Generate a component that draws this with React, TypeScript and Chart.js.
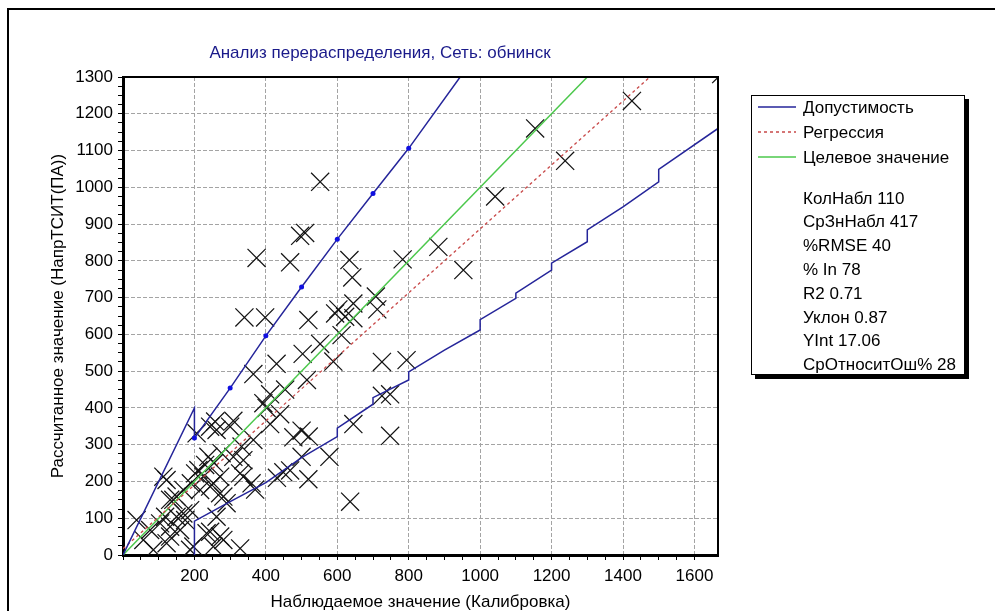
import React, { useEffect, useRef } from "react";
import { Chart, registerables } from "chart.js";

Chart.register(...registerables);

// ---------- data ----------
const chartTitle = "Анализ перераспределения, Сеть: обнинск";
const xAxisTitle = "Наблюдаемое значение (Калибровка)";
const yAxisTitle = "Рассчитанное значение (НапрТСИТ(ПА))";

const legendLabels = ["Допустимость", "Регрессия", "Целевое значение"];
const statsLines = [
  "КолНабл 110",
  "СрЗнНабл 417",
  "%RMSE 40",
  "% In 78",
  "R2 0.71",
  "Уклон 0.87",
  "YInt 17.06",
  "СрОтноситОш% 28",
];

// observed (calibration) values
const observed = [
  552, 1154, 1425, 1238, 1042, 883, 953, 783, 496, 510,
  374, 468, 634, 642, 708, 712, 340, 398, 519, 594,
  603, 622, 645, 645, 612, 552, 503, 589, 725, 794,
  430, 515, 365, 454, 412, 393, 402, 440, 412, 500,
  477, 520, 500, 578, 645, 725, 748, 748, 636, 519,
  431, 449, 468, 360, 370, 337, 337, 309, 300, 309,
  258, 244, 262, 206, 365, 332, 276, 239, 272, 253,
  225, 211, 202, 216, 281, 262, 281, 328, 244, 197,
  122, 57, 38, 113, 132, 150, 169, 118, 104, 132,
  150, 169, 188, 174, 160, 76, 328, 244, 272, 290,
  122, 141, 132, 234, 272, 253, 188, 85, 1675, 230,
  255, 190,
];
// calculated (model) values
const calculated = [
  1015, 1160, 1235, 1072, 975, 838, 775, 804, 868, 876,
  808, 796, 802, 755, 703, 668, 646, 646, 639, 657,
  668, 648, 684, 644, 598, 574, 547, 526, 525, 530,
  520, 476, 492, 450, 437, 413, 400, 383, 356, 338,
  320, 322, 267, 267, 356, 433, 437, 324, 145, 206,
  210, 225, 230, 195, 178, 213, 258, 267, 349, 365,
  363, 349, 340, 331, 313, 295, 277, 267, 213, 195,
  213, 231, 222, 177, 159, 104, 41, 18, 63, 23,
  32, 41, 95, 213, 150, 159, 177, 104, 86, 77,
  104, 113, 122, 95, 68, 68, 222, 186, 168, 141,
  204, 150, 50, 59, 50, 23, 14, 14, 1308, 245,
  250, 195,
];

// tolerance band (upper)
const upperTolX = [0, 200, 200, 300, 400, 500, 600, 700, 800, 944];
const upperTolY = [0, 400, 318, 454, 596, 729, 859, 983, 1106, 1300];
const upperDots = [0, 0, 2.5, 2.5, 2.5, 2.5, 2.5, 2.5, 2.5, 0];

// tolerance band (lower)
const lowerTolX = [200, 200, 300, 400, 500, 600, 600, 700, 700, 800, 800, 900, 1000, 1000, 1100, 1100, 1200, 1200, 1300, 1300, 1400, 1500, 1500, 1666];
const lowerTolY = [0, 92, 145, 197, 265, 322, 345, 410, 428, 476, 498, 557, 612, 640, 698, 712, 775, 794, 852, 884, 947, 1015, 1049, 1160];

// regression & target lines
const regressionX = [0, 1475];
const regressionY = [17.06, 1300];
const targetX = [0, 1300];
const targetY = [0, 1300];

// axes
const xMin = 0;
const xMax = 1666;
const yMin = 0;
const yMax = 1300;
const xMajorStep = 200;
const xMinorStep = 50;
const yMajorStep = 100;
const yMinorStep = 25;

// ---------- styles ----------
const FONT = '"Liberation Sans", Arial, sans-serif';
const FS = 17;
const BLUE = "#25259a";
const BLUE_DOT = "#1010e0";
const RED = "#c84848";
const GREEN = "#4cc84c";
const GRID = "#a4a4a4";

const toPts = (xs: number[], ys: number[]) => xs.map((x, i) => ({ x, y: ys[i] }));

const decorPlugin = {
  id: "decor",
  beforeDraw(chart: any) {
    const { ctx, width, height } = chart;
    ctx.save();
    ctx.fillStyle = "#ffffff";
    ctx.fillRect(0, 0, width, height);
    // outer frame
    ctx.strokeStyle = "#000";
    ctx.lineWidth = 2;
    ctx.beginPath();
    ctx.moveTo(8, height);
    ctx.lineTo(8, 9);
    ctx.lineTo(width, 9);
    ctx.stroke();
    // title
    ctx.fillStyle = "#1a1a8a";
    ctx.font = `${FS}px ${FONT}`;
    ctx.textAlign = "center";
    ctx.textBaseline = "middle";
    ctx.fillText(chartTitle, 380, 53);
    ctx.restore();
  },
  afterDraw(chart: any) {
    const { ctx, chartArea } = chart;
    ctx.save();
    // plot frame top/right
    ctx.strokeStyle = "#000";
    ctx.lineWidth = 2;
    ctx.beginPath();
    ctx.moveTo(chartArea.left, chartArea.top);
    ctx.lineTo(chartArea.right, chartArea.top);
    ctx.lineTo(chartArea.right, chartArea.bottom);
    ctx.stroke();

    // legend box
    const bx = 751, by = 95, bw = 214, bh = 280;
    ctx.fillStyle = "#000";
    ctx.fillRect(bx + 4, by + 4, bw, bh);
    ctx.fillStyle = "#fff";
    ctx.fillRect(bx, by, bw, bh);
    ctx.strokeStyle = "#000";
    ctx.lineWidth = 1;
    ctx.strokeRect(bx + 0.5, by + 0.5, bw - 1, bh - 1);

    const colors = [BLUE, RED, GREEN];
    const dashes = [[], [3, 3], []];
    const rows = [107, 132, 157];
    ctx.font = `${FS}px ${FONT}`;
    ctx.textAlign = "left";
    ctx.textBaseline = "middle";
    legendLabels.forEach((lab, i) => {
      ctx.strokeStyle = colors[i];
      ctx.lineWidth = 1.5;
      ctx.setLineDash(dashes[i]);
      ctx.beginPath();
      ctx.moveTo(758, rows[i]);
      ctx.lineTo(796, rows[i]);
      ctx.stroke();
      ctx.setLineDash([]);
      ctx.fillStyle = "#000";
      ctx.fillText(lab, 803, rows[i] + 1);
    });
    statsLines.forEach((s, i) => {
      ctx.fillStyle = "#000";
      ctx.fillText(s, 803, 199 + i * 23.8);
    });
    ctx.restore();
  },
};

export default function App() {
  const ref = useRef<HTMLCanvasElement | null>(null);

  useEffect(() => {
    if (!ref.current) return;
    const chart = new Chart(ref.current, {
      type: "scatter",
      data: {
        datasets: [
          {
            label: "upper",
            type: "line",
            data: toPts(upperTolX, upperTolY),
            borderColor: BLUE,
            borderWidth: 1.5,
            pointRadius: upperDots,
            pointBackgroundColor: BLUE_DOT,
            pointBorderWidth: 0,
            fill: false,
            tension: 0,
          } as any,
          {
            label: "lower",
            type: "line",
            data: toPts(lowerTolX, lowerTolY),
            borderColor: BLUE,
            borderWidth: 1.5,
            pointRadius: 0,
            fill: false,
            tension: 0,
          } as any,
          {
            label: "regression",
            type: "line",
            data: toPts(regressionX, regressionY),
            borderColor: RED,
            borderWidth: 1.3,
            borderDash: [3, 3],
            pointRadius: 0,
            fill: false,
          } as any,
          {
            label: "target",
            type: "line",
            data: toPts(targetX, targetY),
            borderColor: GREEN,
            borderWidth: 1.5,
            pointRadius: 0,
            fill: false,
          } as any,
          {
            label: "obs",
            data: toPts(observed, calculated),
            pointStyle: "crossRot",
            pointRadius: 12.8,
            borderColor: "#141414",
            backgroundColor: "transparent",
            borderWidth: 1.25,
            clip: 0,
          } as any,
        ],
      },
      options: {
        animation: false,
        responsive: false,
        devicePixelRatio: 1,
        events: [],
        layout: { padding: { left: 0, top: 77, right: 277, bottom: 0 } },
        plugins: {
          legend: { display: false },
          title: { display: false },
          tooltip: { enabled: false },
        },
        scales: {
          x: {
            type: "linear",
            position: "bottom",
            min: xMin,
            max: xMax,
            afterFit: (s: any) => {
              s.height = 56;
            },
            ticks: {
              stepSize: xMinorStep,
              autoSkip: false,
              maxRotation: 0,
              minRotation: 0,
              padding: 6,
              color: "#000",
              font: { family: FONT, size: FS },
              callback: (v: any) => (v % xMajorStep === 0 && v > 0 ? String(v) : ""),
            },
            grid: {
              color: (c: any) =>
                c.tick && c.tick.value % xMajorStep === 0 && c.tick.value > xMin ? GRID : "transparent",
              tickColor: (c: any) => (c.tick && c.tick.value % xMinorStep === 0 ? "#000" : "transparent"),
              tickLength: 5,
              lineWidth: 1,
            },
            border: { display: true, color: "#000", width: 3, dash: [4, 2] },
            title: {
              display: true,
              text: xAxisTitle,
              color: "#000",
              font: { family: FONT, size: FS },
              padding: { top: 0, bottom: -2 },
            },
          },
          y: {
            type: "linear",
            position: "left",
            min: yMin,
            max: yMax,
            afterFit: (s: any) => {
              s.width = 123;
            },
            ticks: {
              stepSize: yMinorStep,
              autoSkip: false,
              padding: 5,
              color: "#000",
              font: { family: FONT, size: FS },
              callback: (v: any) => (v % yMajorStep === 0 ? String(v) : ""),
            },
            grid: {
              color: (c: any) =>
                c.tick && c.tick.value % yMajorStep === 0 && c.tick.value > yMin && c.tick.value < yMax
                  ? GRID
                  : "transparent",
              tickColor: "#000",
              tickLength: 5,
              lineWidth: 1,
            },
            border: { display: true, color: "#000", width: 3, dash: [4, 2] },
            title: {
              display: true,
              text: yAxisTitle,
              color: "#000",
              font: { family: FONT, size: FS },
              padding: { top: 48, bottom: 0 },
            },
          },
        },
      } as any,
      plugins: [decorPlugin],
    });
    return () => chart.destroy();
  }, []);

  return (
    <div style={{ position: "absolute", left: 0, top: 0, width: 995, height: 611 }}>
      <canvas ref={ref} width={995} height={611} style={{ display: "block", width: 995, height: 611 }} />
    </div>
  );
}
